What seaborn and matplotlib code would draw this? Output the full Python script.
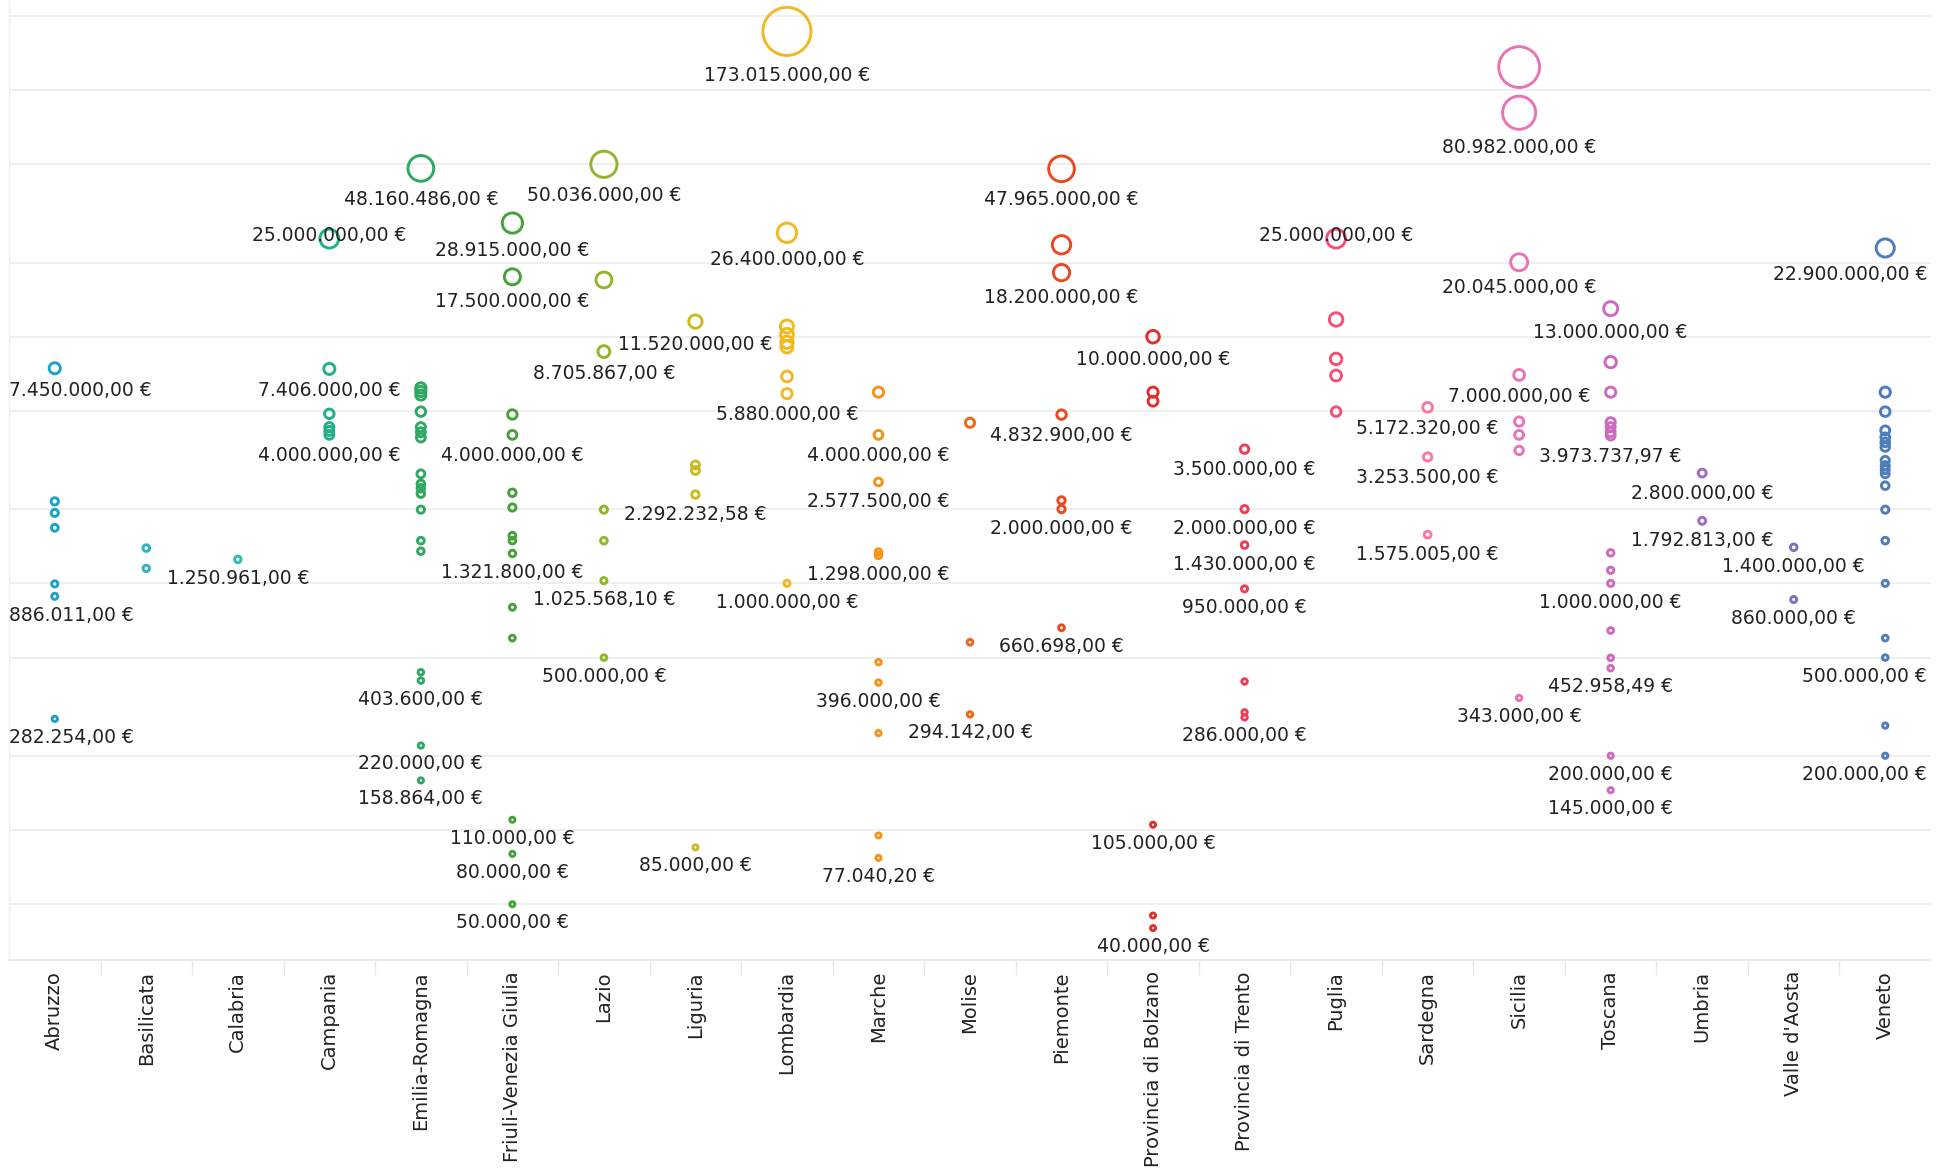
import numpy as np
import pandas as pd
import matplotlib
matplotlib.use("Agg")
import matplotlib.pyplot as plt
import matplotlib.ticker as mticker
import seaborn as sns

# ---------------- data ----------------
regions = ["Abruzzo", "Basilicata", "Calabria", "Campania", "Emilia-Romagna",
           "Friuli-Venezia Giulia", "Lazio", "Liguria", "Lombardia", "Marche",
           "Molise", "Piemonte", "Provincia di Bolzano", "Provincia di Trento",
           "Puglia", "Sardegna", "Sicilia", "Toscana", "Umbria", "Valle d'Aosta",
           "Veneto"]

abruzzo = [7450000, 2150000, 1930000, 1680000, 995000, 886011, 282254]
basilicata = [1390000, 1150000]
calabria = [1250961]
campania = [25000000, 7406000, 4870000, 4300000, 4150000, 4000000]
emilia_romagna = [48160486, 6200000, 6000000, 5800000, 4970000, 4300000, 4100000,
                  3900000, 2780000, 2530000, 2430000, 2310000, 1990000, 1490000,
                  1350000, 436000, 403600, 220000, 158864]
friuli = [28915000, 17500000, 4840000, 4000000, 2330000, 2030000, 1560000, 1490000,
          1321800, 800000, 600000, 110000, 80000, 50000]
lazio = [50036000, 17000000, 8705867, 1990000, 1490000, 1025568.10, 500000]
liguria = [11520000, 3020000, 2870000, 2292232.58, 85000]
lombardia = [173015000, 26400000, 11000000, 10200000, 9500000, 9100000, 6900000,
             5880000, 1000000]
marche = [5960000, 4000000, 2577500, 1340000, 1298000, 479000, 396000, 247000,
          95000, 77040.20]
molise = [4480000, 577000, 294142]
piemonte = [47965000, 23600000, 18200000, 4832900, 2170000, 2000000, 660698]
bolzano = [10000000, 5960000, 5480000, 105000, 45000, 40000]
trento = [3500000, 2000000, 1430000, 950000, 400000, 300000, 286000]
puglia = [25000000, 11750000, 8130000, 6960000, 4970000]
sardegna = [5172320, 3253500, 1575005]
sicilia = [124000000, 80982000, 20045000, 7000000, 4530000, 4000000, 3460000, 343000]
toscana = [13000000, 7890000, 5960000, 4500000, 4300000, 4100000, 3973737.97,
           1330000, 1130000, 1000000, 644000, 499000, 452958.49, 200000, 145000]
umbria = [2800000, 1792813]
valle_daosta = [1400000, 860000]
veneto = [22900000, 5960000, 4970000, 4170000, 3910000, 3730000, 3570000, 3150000,
          3000000, 2890000, 2780000, 2490000, 1990000, 1490000, 1000000, 600000,
          500000, 265000, 200000]

region_values = [abruzzo, basilicata, calabria, campania, emilia_romagna, friuli,
                 lazio, liguria, lombardia, marche, molise, piemonte, bolzano,
                 trento, puglia, sardegna, sicilia, toscana, umbria, valle_daosta,
                 veneto]

# values that carry a text label
lab_abruzzo = [7450000, 886011, 282254]
lab_basilicata = []
lab_calabria = [1250961]
lab_campania = [25000000, 7406000, 4000000]
lab_emilia_romagna = [48160486, 403600, 220000, 158864]
lab_friuli = [28915000, 17500000, 4000000, 1321800, 110000, 80000, 50000]
lab_lazio = [50036000, 8705867, 1025568.10, 500000]
lab_liguria = [11520000, 2292232.58, 85000]
lab_lombardia = [173015000, 26400000, 5880000, 1000000]
lab_marche = [4000000, 2577500, 1298000, 396000, 77040.20]
lab_molise = [294142]
lab_piemonte = [47965000, 18200000, 4832900, 2000000, 660698]
lab_bolzano = [10000000, 105000, 40000]
lab_trento = [3500000, 2000000, 1430000, 950000, 286000]
lab_puglia = [25000000]
lab_sardegna = [5172320, 3253500, 1575005]
lab_sicilia = [80982000, 20045000, 7000000, 343000]
lab_toscana = [13000000, 3973737.97, 1000000, 452958.49, 200000, 145000]
lab_umbria = [2800000, 1792813]
lab_valle_daosta = [1400000, 860000]
lab_veneto = [22900000, 500000, 200000]

region_labels = [lab_abruzzo, lab_basilicata, lab_calabria, lab_campania,
                 lab_emilia_romagna, lab_friuli, lab_lazio, lab_liguria,
                 lab_lombardia, lab_marche, lab_molise, lab_piemonte, lab_bolzano,
                 lab_trento, lab_puglia, lab_sardegna, lab_sicilia, lab_toscana,
                 lab_umbria, lab_valle_daosta, lab_veneto]

colors = ["#1BA3C6", "#2CB5C0", "#30BCAD", "#21B087", "#2FA862", "#45A23A",
          "#92B52A", "#CDBA21", "#F2B821", "#F89217", "#F06719", "#E8491E",
          "#E0302E", "#EE3D55", "#F64F76", "#F978A3", "#EB73B3", "#CE69BE",
          "#A26DC2", "#7873C0", "#4F7CBA"]

# ---------------- frame ----------------
rows = []
for reg, vals in zip(regions, region_values):
    for v in vals:
        rows.append((reg, v))
df = pd.DataFrame(rows, columns=["region", "value"])
df["region"] = pd.Categorical(df["region"], categories=regions, ordered=True)

W, H, DPI = 1947, 1175, 100
fig = plt.figure(figsize=(W / DPI, H / DPI), dpi=DPI)
ax = fig.add_axes([9 / W, 1 - 960 / H, 1922 / W, 960 / H])
ax.set_yscale("log")

SMIN, SMAX = 13.0, 1199.0
VMAX = 173015000
LW = 2.1

sns.scatterplot(data=df, x="region", y="value", hue="region", palette=colors,
                size="value", sizes=(SMIN, SMAX), size_norm=(0, VMAX),
                legend=False, ax=ax, linewidth=LW, zorder=3)

pc = ax.collections[0]
fcs = pc.get_facecolors()
pc.set_edgecolors(fcs)
pc.set_facecolors("none")
pc.set_linewidths(LW)

ax.set_xlim(-0.5, 20.5)
ax.set_ylim(29.7e3, 232e6)

# grid
ax.yaxis.set_major_locator(mticker.FixedLocator(
    [5e4, 1e5, 2e5, 5e5, 1e6, 2e6, 5e6, 1e7, 2e7, 5e7, 1e8, 2e8]))
ax.yaxis.set_minor_locator(mticker.NullLocator())
ax.tick_params(axis="y", length=0, labelleft=False)
ax.grid(axis="y", color="#eeeeee", linewidth=1.3)
ax.grid(axis="x", visible=False)
ax.set_axisbelow(True)

for s in ["top", "right"]:
    ax.spines[s].set_visible(False)
ax.spines["left"].set_color("#f0f0f0")
ax.spines["left"].set_linewidth(1.0)
ax.spines["bottom"].set_color("#ebebeb")
ax.spines["bottom"].set_linewidth(1.5)

ax.set_xticks(range(len(regions)))
ax.set_xticklabels(regions, rotation=90, fontsize=14, color="#222222")
ax.tick_params(axis="x", which="major", length=0, pad=8)
ax.set_xticks(np.arange(0.5, len(regions) - 1, 1.0), minor=True)
ax.tick_params(axis="x", which="minor", length=11, width=1.0, color="#e6e6e6",
               direction="out")
ax.set_xlabel("")
ax.set_ylabel("")


def fmt(v):
    s = f"{v:,.2f}"
    s = s.replace(",", "X").replace(".", ",").replace("X", ".")
    return s + " €"


def outer_radius_px(v):
    s = SMIN + v / VMAX * (SMAX - SMIN)
    return np.sqrt(s) * DPI / 72 / 2 + LW * DPI / 72 / 2


for i, (reg, labs) in enumerate(zip(regions, region_labels)):
    for v in labs:
        r = outer_radius_px(v)
        dy = -(r * 1.2 + 12 + 7)
        kw = dict(fontsize=13.5, color="#222222", va="baseline", zorder=5,
                  textcoords="offset pixels")
        if reg in ("Campania", "Puglia") and v == 25000000:
            ax.annotate(fmt(v), xy=(i, v), xytext=(0, -2), ha="center", **kw)
        elif i == 0:
            ax.annotate(fmt(v), xy=(0.0, v), xycoords=("axes fraction", "data"),
                        xytext=(0, dy), ha="left", **kw)
        elif i == len(regions) - 1:
            ax.annotate(fmt(v), xy=(1.0, v), xycoords=("axes fraction", "data"),
                        xytext=(-4, dy), ha="right", **kw)
        else:
            ax.annotate(fmt(v), xy=(i, v), xytext=(0, dy), ha="center", **kw)

fig.savefig("out.png", dpi=DPI, facecolor="white")
